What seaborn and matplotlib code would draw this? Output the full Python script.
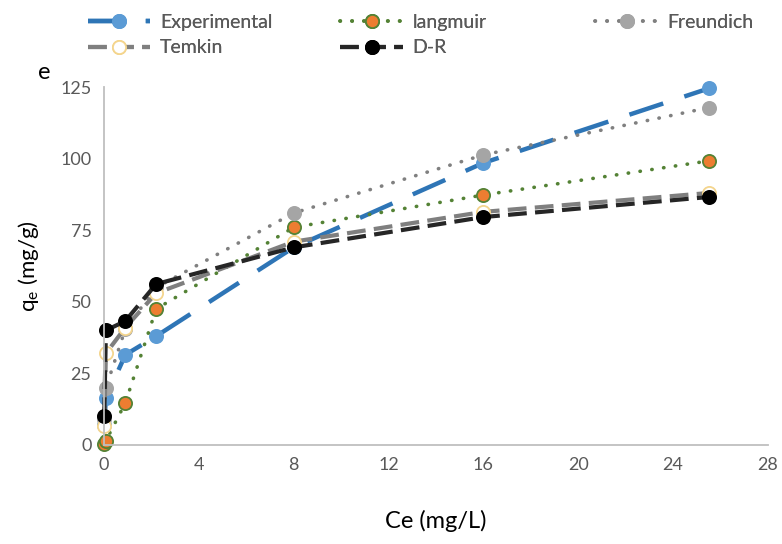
import matplotlib
matplotlib.use("Agg")
import matplotlib.pyplot as plt
import seaborn as sns

# Equilibrium concentration Ce (mg/L)
ce = [0.01, 0.08, 0.9, 2.2, 8.0, 16.0, 25.5]

# Adsorption capacity qe (mg/g) for measured data and isotherm models
experimental = [7.0, 16.4, 31.5, 38.0, 69.0, 98.5, 124.5]
langmuir = [0.5, 1.5, 14.7, 47.5, 76.0, 87.3, 99.2]
freundlich = [9.0, 20.0, 40.5, 55.0, 81.0, 101.3, 117.8]
temkin = [6.6, 32.0, 41.0, 53.0, 71.0, 81.4, 88.0]
dr = [10.1, 40.0, 43.3, 56.2, 69.0, 79.6, 86.6]

x_ticks = [0, 4, 8, 12, 16, 20, 24, 28]
y_ticks = [0, 25, 50, 75, 100, 125]

sns.set_theme(style="white")
plt.rcParams["font.family"] = ["Lato", "DejaVu Sans"]

fig = plt.figure(figsize=(7.82, 5.44), dpi=100)
ax = fig.add_axes([0.133, 0.182, 0.849, 0.658])

series = [
    ("Experimental", experimental, dict(color="#2E75B6", linestyle=(0, (8, 5)), linewidth=3.2,
                                        markerfacecolor="#5B9BD5", markeredgecolor="#5B9BD5")),
    ("langmuir", langmuir, dict(color="#548235", linestyle=(0, (0.1, 3.2)), linewidth=2.6,
                                dash_capstyle="round",
                                markerfacecolor="#ED7D31", markeredgecolor="#548235")),
    ("Freundich", freundlich, dict(color="#808080", linestyle=(0, (0.1, 3.2)), linewidth=2.6,
                                   dash_capstyle="round",
                                   markerfacecolor="#A5A5A5", markeredgecolor="#A5A5A5")),
    ("Temkin", temkin, dict(color="#7F7F7F", linestyle=(0, (4.5, 2)), linewidth=3.0,
                            markerfacecolor="white", markeredgecolor="#F4D58D")),
    ("D-R", dr, dict(color="#262626", linestyle=(0, (4.5, 2)), linewidth=3.0,
                     markerfacecolor="black", markeredgecolor="black")),
]

for name, vals, style in series:
    sns.lineplot(x=ce, y=vals, ax=ax, marker="o", markersize=9.5, markeredgewidth=1.3,
                 errorbar=None, label=name, clip_on=False, **style)

ax.set_xlim(0, 28)
ax.set_ylim(0, 125)
ax.set_xticks(x_ticks)
ax.set_yticks(y_ticks)
ax.tick_params(axis="both", length=0, labelsize=13, labelcolor="#595959", pad=9)

for side in ["top", "right"]:
    ax.spines[side].set_visible(False)
for side in ["left", "bottom"]:
    ax.spines[side].set_color("#BFBFBF")
    ax.spines[side].set_linewidth(1.3)

ax.set_xlabel("Ce (mg/L)", fontsize=17, color="black", labelpad=26)
ax.set_ylabel(r"q$_\mathregular{e}$ (mg/g)", fontsize=16, color="black", labelpad=14)

h, l = ax.get_legend_handles_labels()
ax.get_legend().remove()

# Legend laid out as three equally spaced columns across the top
columns = [([0, 3], 0.095), ([1, 4], 0.418), ([2], 0.744)]
for idx, x0 in columns:
    leg = fig.legend([h[i] for i in idx], [l[i] for i in idx], loc="upper left",
                     bbox_to_anchor=(x0, 1.0), frameon=False, fontsize=14,
                     labelcolor="#595959", handlelength=3.2, handletextpad=0.5,
                     labelspacing=0.45, borderaxespad=0.3)
    fig.add_artist(leg)

fig.text(0.048, 0.855, "e", fontsize=17, color="black")

fig.savefig("out.png", dpi=100)
